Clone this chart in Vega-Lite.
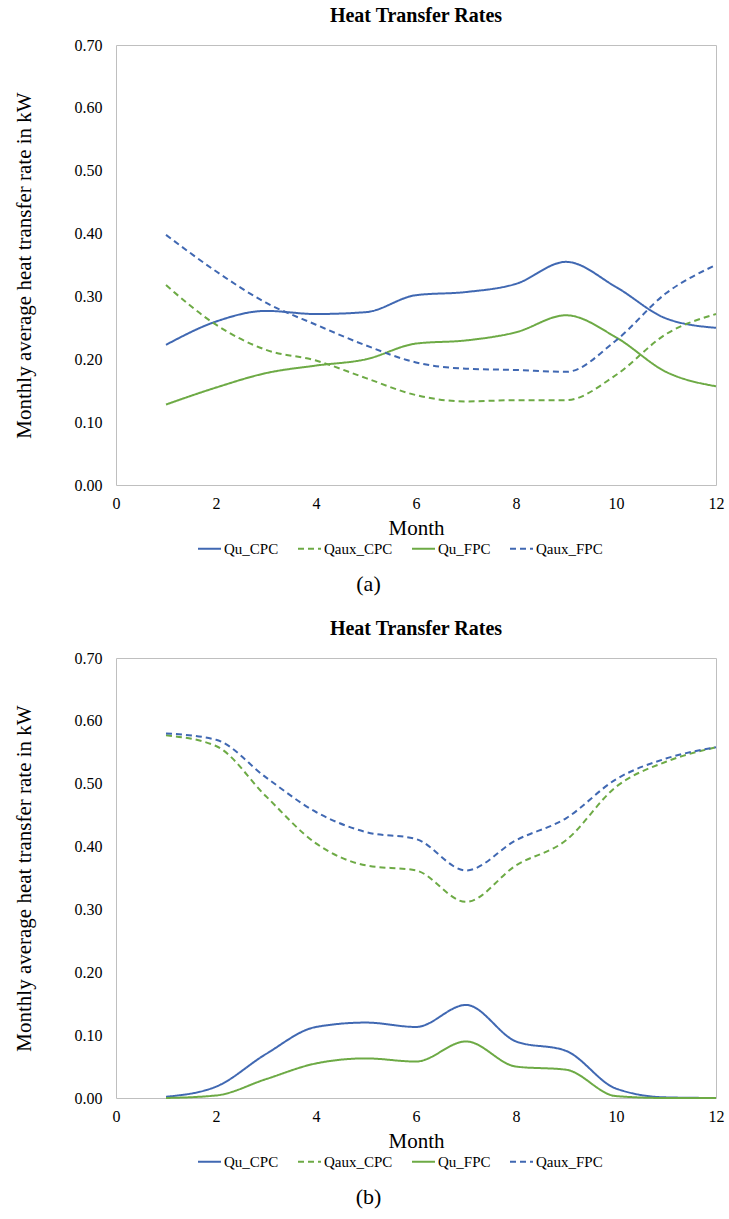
{
  "$schema": "https://vega.github.io/schema/vega-lite/v6.json",
  "background": "white",
  "padding": {"left": 12, "top": 5, "right": 8, "bottom": 5},
  "config": {
    "font": "'Liberation Serif', 'Times New Roman', 'DejaVu Serif', serif",
    "view": {"stroke": "#bfbfbf", "strokeWidth": 1},
    "axis": {"domain": false, "ticks": false, "grid": false, "labelFlush": false, "labelFont": "'Liberation Serif', 'Times New Roman', 'DejaVu Serif', serif", "labelFontSize": 16, "labelColor": "#000000", "titleFont": "'Liberation Serif', 'Times New Roman', 'DejaVu Serif', serif", "titleFontSize": 21, "titleFontWeight": "normal", "titleColor": "#000000"},
    "legend": {"labelFont": "'Liberation Serif', 'Times New Roman', 'DejaVu Serif', serif", "labelFontSize": 15, "labelColor": "#000000"},
    "title": {"font": "'Liberation Serif', 'Times New Roman', 'DejaVu Serif', serif"},
    "concat": {"spacing": 23}
  },
  "datasets": {
    "a": [
      {"month": 1, "series": "Qu_CPC", "value": 0.223}, {"month": 2, "series": "Qu_CPC", "value": 0.26}, {"month": 3, "series": "Qu_CPC", "value": 0.277}, {"month": 4, "series": "Qu_CPC", "value": 0.272}, {"month": 5, "series": "Qu_CPC", "value": 0.275}, {"month": 6, "series": "Qu_CPC", "value": 0.302}, {"month": 7, "series": "Qu_CPC", "value": 0.307}, {"month": 8, "series": "Qu_CPC", "value": 0.32}, {"month": 9, "series": "Qu_CPC", "value": 0.355}, {"month": 10, "series": "Qu_CPC", "value": 0.315}, {"month": 11, "series": "Qu_CPC", "value": 0.265}, {"month": 12, "series": "Qu_CPC", "value": 0.25},
      {"month": 1, "series": "Qaux_CPC", "value": 0.318}, {"month": 2, "series": "Qaux_CPC", "value": 0.255}, {"month": 3, "series": "Qaux_CPC", "value": 0.215}, {"month": 4, "series": "Qaux_CPC", "value": 0.198}, {"month": 5, "series": "Qaux_CPC", "value": 0.17}, {"month": 6, "series": "Qaux_CPC", "value": 0.143}, {"month": 7, "series": "Qaux_CPC", "value": 0.133}, {"month": 8, "series": "Qaux_CPC", "value": 0.135}, {"month": 9, "series": "Qaux_CPC", "value": 0.135}, {"month": 10, "series": "Qaux_CPC", "value": 0.175}, {"month": 11, "series": "Qaux_CPC", "value": 0.24}, {"month": 12, "series": "Qaux_CPC", "value": 0.272},
      {"month": 1, "series": "Qu_FPC", "value": 0.128}, {"month": 2, "series": "Qu_FPC", "value": 0.155}, {"month": 3, "series": "Qu_FPC", "value": 0.178}, {"month": 4, "series": "Qu_FPC", "value": 0.19}, {"month": 5, "series": "Qu_FPC", "value": 0.2}, {"month": 6, "series": "Qu_FPC", "value": 0.225}, {"month": 7, "series": "Qu_FPC", "value": 0.23}, {"month": 8, "series": "Qu_FPC", "value": 0.243}, {"month": 9, "series": "Qu_FPC", "value": 0.27}, {"month": 10, "series": "Qu_FPC", "value": 0.235}, {"month": 11, "series": "Qu_FPC", "value": 0.18}, {"month": 12, "series": "Qu_FPC", "value": 0.157},
      {"month": 1, "series": "Qaux_FPC", "value": 0.398}, {"month": 2, "series": "Qaux_FPC", "value": 0.34}, {"month": 3, "series": "Qaux_FPC", "value": 0.29}, {"month": 4, "series": "Qaux_FPC", "value": 0.255}, {"month": 5, "series": "Qaux_FPC", "value": 0.222}, {"month": 6, "series": "Qaux_FPC", "value": 0.195}, {"month": 7, "series": "Qaux_FPC", "value": 0.185}, {"month": 8, "series": "Qaux_FPC", "value": 0.183}, {"month": 9, "series": "Qaux_FPC", "value": 0.18}, {"month": 10, "series": "Qaux_FPC", "value": 0.23}, {"month": 11, "series": "Qaux_FPC", "value": 0.305}, {"month": 12, "series": "Qaux_FPC", "value": 0.35}
    ],
    "b": [
      {"month": 1, "series": "Qu_CPC", "value": 0.002}, {"month": 2, "series": "Qu_CPC", "value": 0.018}, {"month": 3, "series": "Qu_CPC", "value": 0.07}, {"month": 4, "series": "Qu_CPC", "value": 0.113}, {"month": 5, "series": "Qu_CPC", "value": 0.12}, {"month": 6, "series": "Qu_CPC", "value": 0.113}, {"month": 7, "series": "Qu_CPC", "value": 0.148}, {"month": 8, "series": "Qu_CPC", "value": 0.09}, {"month": 9, "series": "Qu_CPC", "value": 0.075}, {"month": 10, "series": "Qu_CPC", "value": 0.015}, {"month": 11, "series": "Qu_CPC", "value": 0.001}, {"month": 12, "series": "Qu_CPC", "value": 0.0},
      {"month": 1, "series": "Qaux_CPC", "value": 0.577}, {"month": 2, "series": "Qaux_CPC", "value": 0.56}, {"month": 3, "series": "Qaux_CPC", "value": 0.48}, {"month": 4, "series": "Qaux_CPC", "value": 0.405}, {"month": 5, "series": "Qaux_CPC", "value": 0.37}, {"month": 6, "series": "Qaux_CPC", "value": 0.362}, {"month": 7, "series": "Qaux_CPC", "value": 0.312}, {"month": 8, "series": "Qaux_CPC", "value": 0.37}, {"month": 9, "series": "Qaux_CPC", "value": 0.41}, {"month": 10, "series": "Qaux_CPC", "value": 0.495}, {"month": 11, "series": "Qaux_CPC", "value": 0.535}, {"month": 12, "series": "Qaux_CPC", "value": 0.558},
      {"month": 1, "series": "Qu_FPC", "value": 0.0}, {"month": 2, "series": "Qu_FPC", "value": 0.004}, {"month": 3, "series": "Qu_FPC", "value": 0.03}, {"month": 4, "series": "Qu_FPC", "value": 0.055}, {"month": 5, "series": "Qu_FPC", "value": 0.063}, {"month": 6, "series": "Qu_FPC", "value": 0.058}, {"month": 7, "series": "Qu_FPC", "value": 0.09}, {"month": 8, "series": "Qu_FPC", "value": 0.05}, {"month": 9, "series": "Qu_FPC", "value": 0.045}, {"month": 10, "series": "Qu_FPC", "value": 0.003}, {"month": 11, "series": "Qu_FPC", "value": 0.0}, {"month": 12, "series": "Qu_FPC", "value": 0.0},
      {"month": 1, "series": "Qaux_FPC", "value": 0.58}, {"month": 2, "series": "Qaux_FPC", "value": 0.57}, {"month": 3, "series": "Qaux_FPC", "value": 0.51}, {"month": 4, "series": "Qaux_FPC", "value": 0.455}, {"month": 5, "series": "Qaux_FPC", "value": 0.423}, {"month": 6, "series": "Qaux_FPC", "value": 0.412}, {"month": 7, "series": "Qaux_FPC", "value": 0.362}, {"month": 8, "series": "Qaux_FPC", "value": 0.41}, {"month": 9, "series": "Qaux_FPC", "value": 0.445}, {"month": 10, "series": "Qaux_FPC", "value": 0.507}, {"month": 11, "series": "Qaux_FPC", "value": 0.54}, {"month": 12, "series": "Qaux_FPC", "value": 0.558}
    ]
  },
  "vconcat": [
    {
      "title": {"text": "(a)", "orient": "bottom", "anchor": "middle", "fontSize": 22, "fontWeight": "normal", "color": "#000000", "offset": 17},
      "vconcat": [
        {
          "title": {"text": "Heat Transfer Rates", "anchor": "middle", "fontSize": 20, "fontWeight": "bold", "color": "#000000", "offset": 11},
          "width": 600,
          "height": 440,
          "data": {"name": "a"},
          "mark": {"type": "line", "interpolate": "monotone", "strokeWidth": 2},
          "encoding": {
            "x": {"field": "month", "type": "quantitative", "scale": {"domain": [0, 12], "nice": false}, "axis": {"values": [0, 2, 4, 6, 8, 10, 12], "title": "Month", "labelPadding": 10, "titlePadding": 6}},
            "y": {"field": "value", "type": "quantitative", "scale": {"domain": [0, 0.7], "nice": false}, "axis": {"values": [0, 0.1, 0.2, 0.3, 0.4, 0.5, 0.6, 0.7], "format": ".2f", "title": "Monthly average heat transfer rate in kW", "labelPadding": 14, "titlePadding": 40}},
            "color": {"field": "series", "type": "nominal", "scale": {"domain": ["Qu_CPC", "Qaux_CPC", "Qu_FPC", "Qaux_FPC"], "range": ["#4068B2", "#6DAA45", "#6DAA45", "#4068B2"]}, "legend": {"orient": "none", "legendX": 81, "legendY": 491, "direction": "horizontal", "title": null, "symbolType": "stroke", "symbolSize": 529, "symbolStrokeWidth": 2, "columnPadding": 15, "labelOffset": 2}},
            "strokeDash": {"field": "series", "type": "nominal", "scale": {"domain": ["Qu_CPC", "Qaux_CPC", "Qu_FPC", "Qaux_FPC"], "range": [[1, 0], [6, 4], [1, 0], [6, 4]]}, "legend": {"orient": "none", "legendX": 81, "legendY": 491, "direction": "horizontal", "title": null, "symbolType": "stroke", "symbolSize": 529, "symbolStrokeWidth": 2, "columnPadding": 15, "labelOffset": 2}}
          }
        }
      ]
    },
    {
      "title": {"text": "(b)", "orient": "bottom", "anchor": "middle", "fontSize": 22, "fontWeight": "normal", "color": "#000000", "offset": 17},
      "vconcat": [
        {
          "title": {"text": "Heat Transfer Rates", "anchor": "middle", "fontSize": 20, "fontWeight": "bold", "color": "#000000", "offset": 11},
          "width": 600,
          "height": 440,
          "data": {"name": "b"},
          "mark": {"type": "line", "interpolate": "monotone", "strokeWidth": 2},
          "encoding": {
            "x": {"field": "month", "type": "quantitative", "scale": {"domain": [0, 12], "nice": false}, "axis": {"values": [0, 2, 4, 6, 8, 10, 12], "title": "Month", "labelPadding": 10, "titlePadding": 6}},
            "y": {"field": "value", "type": "quantitative", "scale": {"domain": [0, 0.7], "nice": false}, "axis": {"values": [0, 0.1, 0.2, 0.3, 0.4, 0.5, 0.6, 0.7], "format": ".2f", "title": "Monthly average heat transfer rate in kW", "labelPadding": 14, "titlePadding": 40}},
            "color": {"field": "series", "type": "nominal", "scale": {"domain": ["Qu_CPC", "Qaux_CPC", "Qu_FPC", "Qaux_FPC"], "range": ["#4068B2", "#6DAA45", "#6DAA45", "#4068B2"]}, "legend": {"orient": "none", "legendX": 81, "legendY": 491, "direction": "horizontal", "title": null, "symbolType": "stroke", "symbolSize": 529, "symbolStrokeWidth": 2, "columnPadding": 15, "labelOffset": 2}},
            "strokeDash": {"field": "series", "type": "nominal", "scale": {"domain": ["Qu_CPC", "Qaux_CPC", "Qu_FPC", "Qaux_FPC"], "range": [[1, 0], [6, 4], [1, 0], [6, 4]]}, "legend": {"orient": "none", "legendX": 81, "legendY": 491, "direction": "horizontal", "title": null, "symbolType": "stroke", "symbolSize": 529, "symbolStrokeWidth": 2, "columnPadding": 15, "labelOffset": 2}}
          }
        }
      ]
    }
  ],
  "resolve": {"scale": {"color": "independent", "strokeDash": "independent"}}
}
